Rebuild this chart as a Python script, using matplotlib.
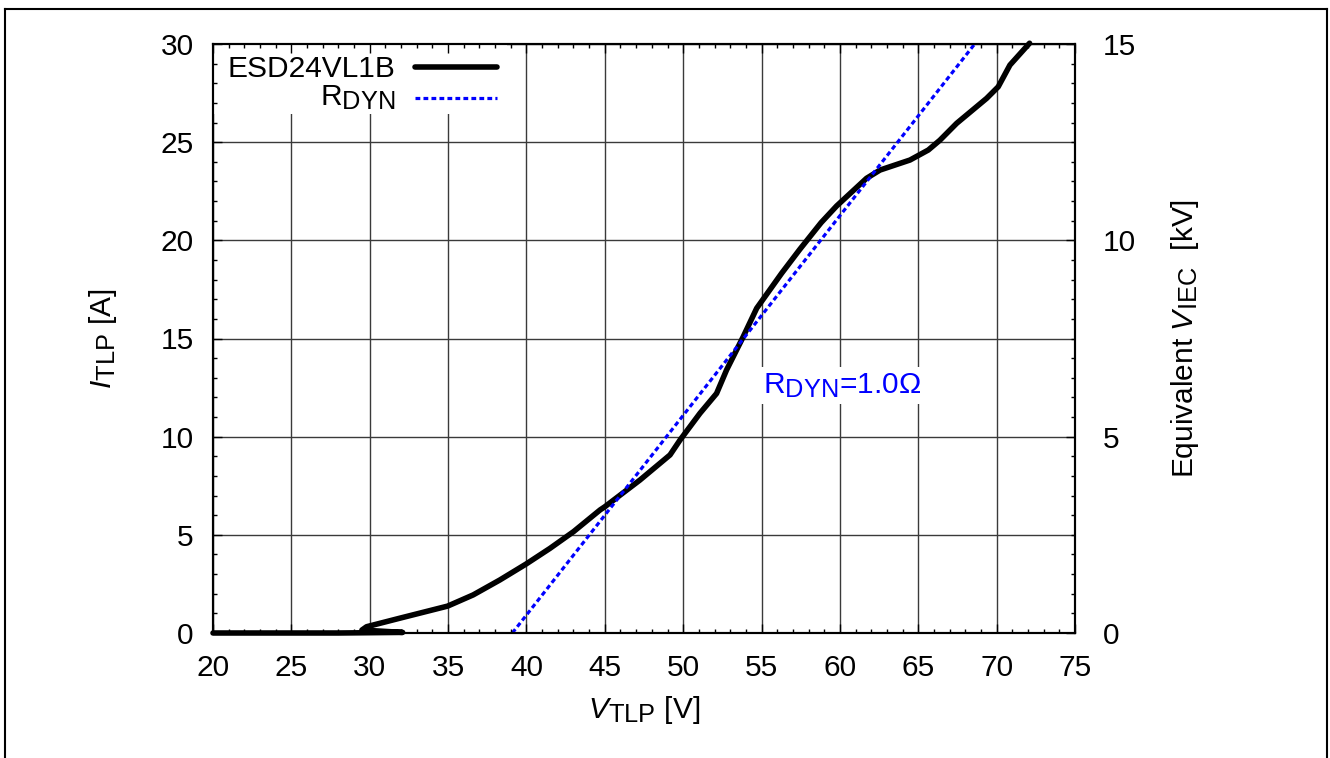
import matplotlib
matplotlib.use("Agg")
import matplotlib.pyplot as plt
from matplotlib.ticker import MultipleLocator
from matplotlib.patches import Rectangle
from matplotlib.lines import Line2D
import matplotlib._mathtext as _mt

_mt.SHRINK_FACTOR = 0.85

plt.rcParams['font.family'] = ['Liberation Sans', 'DejaVu Sans']
plt.rcParams['mathtext.fontset'] = 'custom'
plt.rcParams['mathtext.rm'] = 'Liberation Sans'
plt.rcParams['mathtext.it'] = 'Liberation Sans:italic'
plt.rcParams['mathtext.bf'] = 'Liberation Sans:bold'

# ---------------- data ----------------
v_tlp = [20.0, 24.0, 28.0, 32.1, 29.5, 29.8, 31.9, 34.97, 36.6, 38.3, 39.97,
         41.5, 43.0, 44.7, 45.0, 47.24, 49.16, 49.8, 51.07, 52.13, 52.77,
         53.83, 54.69, 56.28, 57.45, 58.8, 59.79, 61.7, 62.56, 64.47, 65.64,
         66.38, 67.45, 69.36, 70.1, 70.85, 72.1]
i_tlp = [0.0, 0.0, 0.0, 0.03, 0.15, 0.32, 0.75, 1.37, 1.94, 2.7, 3.51,
         4.31, 5.16, 6.27, 6.43, 7.79, 9.07, 9.83, 11.19, 12.2, 13.4,
         15.09, 16.54, 18.32, 19.55, 20.9, 21.75, 23.16, 23.58, 24.09, 24.6,
         25.1, 25.96, 27.23, 27.82, 28.93, 30.04]

rdyn_v = [39.1, 68.6]
rdyn_i = [0.0, 30.0]

series_labels = ['ESD24VL1B', r'R$_{\mathrm{DYN}}$']
rdyn_text = r'R$_{\mathrm{DYN}}$=1.0Ω'
rdyn_text_pos = (55.1, 12.2)

x_ticks = [20, 25, 30, 35, 40, 45, 50, 55, 60, 65, 70, 75]
y_ticks = [0, 5, 10, 15, 20, 25, 30]
y2_ticks = [0, 5, 10, 15]

xlabel = r'$V$$_{\mathrm{TLP}}$ [V]'
ylabel = r'$I$$_{\mathrm{TLP}}$ [A]'
y2label = r'Equivalent $V$$_{\mathrm{IEC}}$  [kV]'

# ---------------- figure ----------------
FS = 21.5
W, H = 1330, 758
fig = plt.figure(figsize=(W / 100, H / 100), dpi=100)
fig.patch.set_facecolor('white')

# outer frame (left, top, right)
fx0, fx1, fy0 = 5.5 / W, 1326.5 / W, 1 - 8.5 / H
for xs, ys in [([fx0, fx0], [-0.01, fy0]), ([fx0, fx1], [fy0, fy0]),
               ([fx1, fx1], [fy0, -0.01])]:
    fig.add_artist(Line2D(xs, ys, transform=fig.transFigure, color='black',
                          lw=1.5, solid_capstyle='projecting'))

L, R, T, B = 213, 1075, 44, 633
rect = [L / W, 1 - B / H, (R - L) / W, (B - T) / H]

# data axes (grid + curves)
ax = fig.add_axes(rect)
ax.set_xlim(20, 75)
ax.set_ylim(0, 30)
ax.set_xticks(x_ticks)
ax.set_yticks(y_ticks)
ax.set_axisbelow(True)
ax.grid(True, which='major', color='#3a3a3a', lw=1.0)
ax.tick_params(which='both', length=0, labelbottom=False, labelleft=False)
for s in ax.spines.values():
    s.set_visible(False)

# legend background box
ax.add_patch(Rectangle((0, 0.881), 0.341, 0.119, transform=ax.transAxes,
                       facecolor='white', edgecolor='none', zorder=1))

ax.plot(v_tlp, i_tlp, color='black', lw=4.0, solid_capstyle='round',
        solid_joinstyle='round', clip_on=False, zorder=3)
ax.plot(rdyn_v, rdyn_i, color='#0000ff', lw=2.3, dashes=(1.5, 1.0), zorder=3)

ax.text(rdyn_text_pos[0], rdyn_text_pos[1], rdyn_text, color='#0000ff',
        fontsize=FS, ha='left', va='baseline', zorder=2,
        bbox=dict(facecolor='white', edgecolor='none', pad=3))

# manual gnuplot-style legend (text right-aligned, sample on right)
leg_y_text = [0.944, 0.8964]
leg_y_line = [0.961, 0.908]
ax.text(0.212, leg_y_text[0], series_labels[0], transform=ax.transAxes,
        fontsize=FS, ha='right', va='baseline', zorder=4)
ax.text(0.212, leg_y_text[1], series_labels[1], transform=ax.transAxes,
        fontsize=FS, ha='right', va='baseline', zorder=4)
ax.add_line(Line2D([0.2343, 0.3295], [leg_y_line[0]] * 2, transform=ax.transAxes,
                   color='black', lw=4.0, solid_capstyle='round', zorder=4))
ax.add_line(Line2D([0.2343, 0.3295], [leg_y_line[1]] * 2, transform=ax.transAxes,
                   color='#0000ff', lw=2.3, dashes=(1.5, 1.0), zorder=4))

# overlay axes for spines, ticks, labels
axt = fig.add_axes(rect)
axt.patch.set_visible(False)
axt.set_xlim(20, 75)
axt.set_ylim(0, 30)
axt.set_xticks(x_ticks)
axt.set_yticks(y_ticks)
axt.xaxis.set_minor_locator(MultipleLocator(1))
axt.yaxis.set_minor_locator(MultipleLocator(1))
axt.tick_params(which='both', direction='in', top=True, bottom=True,
                left=True, right=False, width=1.0, color='black')
axt.tick_params(which='major', length=6.5)
axt.tick_params(which='minor', length=3.2)
axt.tick_params(axis='x', which='major', labelsize=FS, pad=15)
axt.tick_params(axis='y', which='major', labelsize=FS, pad=14)
for s in axt.spines.values():
    s.set_linewidth(1.5)

axt.set_xlabel(xlabel, fontsize=FS)
axt.xaxis.label.set_verticalalignment('baseline')
axt.xaxis.set_label_coords(0.5, -0.1443)
axt.set_ylabel(ylabel, fontsize=FS)
axt.yaxis.label.set_verticalalignment('center')
axt.yaxis.set_label_coords(-0.1276, 0.5)

axr = axt.twinx()
axr.set_ylim(0, 15)
axr.set_yticks(y2_ticks)
axr.yaxis.set_minor_locator(MultipleLocator(0.5))
axr.tick_params(which='both', direction='in', right=True, left=False,
                width=1.0, color='black')
axr.tick_params(which='major', length=6.5, labelsize=FS, pad=20)
axr.tick_params(which='minor', length=3.2)
for s in axr.spines.values():
    s.set_linewidth(1.5)
axr.set_ylabel(y2label, fontsize=FS)
axr.yaxis.label.set_verticalalignment('center')
axr.yaxis.set_label_coords(1.1276, 0.5)

fig.savefig('out.png', dpi=100, facecolor='white')
